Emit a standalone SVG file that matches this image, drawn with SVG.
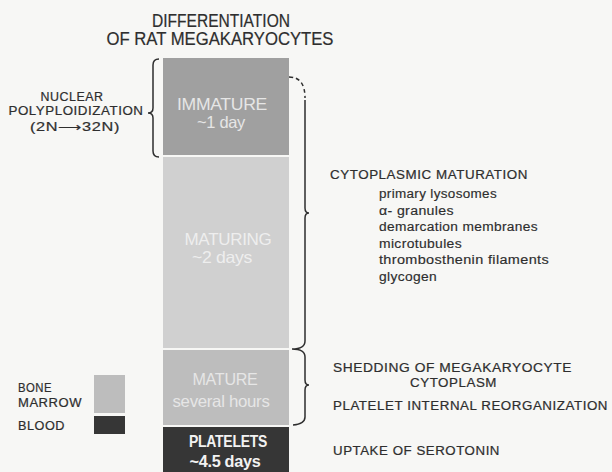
<svg xmlns="http://www.w3.org/2000/svg" width="612" height="472" viewBox="0 0 612 472">
<style>
text{font-family:"Liberation Sans",Arial,sans-serif;fill:#2e2e2e}
.t{font-size:18px;stroke:#2e2e2e;stroke-width:0.2}
.lbl{font-size:12px;letter-spacing:0.5px;stroke:#2e2e2e;stroke-width:0.2}
.item{font-size:12px;letter-spacing:0.3px;stroke:#2e2e2e;stroke-width:0.15}
.box{font-size:16.5px;text-anchor:middle;letter-spacing:-0.3px}
.brace{fill:none;stroke:#2e2e2e;stroke-width:1.5}
</style>
<rect width="612" height="472" fill="#f7f7f5"/>
<g id="title">
<text class="t" x="221" y="27" text-anchor="middle" textLength="138" lengthAdjust="spacingAndGlyphs">DIFFERENTIATION</text>
<text class="t" x="220" y="45" text-anchor="middle" textLength="227" lengthAdjust="spacingAndGlyphs">OF RAT MEGAKARYOCYTES</text>
</g>
<g id="immature">
<rect x="163" y="58" width="126" height="97" fill="#a0a0a0"/>
<text class="box" x="222" y="110" style="fill:#e6e6e6" textLength="90" lengthAdjust="spacingAndGlyphs">IMMATURE</text>
<text class="box" x="221" y="128" style="fill:#e6e6e6" textLength="48" lengthAdjust="spacingAndGlyphs">~1 day</text>
</g>
<g id="maturing">
<rect x="163" y="157" width="126" height="191" fill="#d0d0d0"/>
<text class="box" x="228" y="245" style="fill:#eeeeee" textLength="87" lengthAdjust="spacingAndGlyphs">MATURING</text>
<text class="box" x="222" y="263" style="fill:#eeeeee" textLength="60" lengthAdjust="spacingAndGlyphs">~2 days</text>
</g>
<g id="mature">
<rect x="163" y="350" width="126" height="75" fill="#bdbdbd"/>
<text class="box" x="225" y="385" style="fill:#e6e6e6" textLength="65" lengthAdjust="spacingAndGlyphs">MATURE</text>
<text class="box" x="221" y="407" style="fill:#e6e6e6" textLength="97" lengthAdjust="spacingAndGlyphs">several hours</text>
</g>
<g id="platelets">
<rect x="163" y="427" width="126" height="45" fill="#363636"/>
<text class="box" x="228" y="447" style="fill:#f2f2f2;font-weight:bold" textLength="78" lengthAdjust="spacingAndGlyphs">PLATELETS</text>
<text class="box" x="225" y="467" style="fill:#f2f2f2;font-weight:bold" textLength="71" lengthAdjust="spacingAndGlyphs">~4.5 days</text>
</g>
<g id="nuclear">
<text class="lbl" x="72" y="101" text-anchor="middle" textLength="63" lengthAdjust="spacingAndGlyphs">NUCLEAR</text>
<text class="lbl" x="76" y="115" text-anchor="middle" textLength="135" lengthAdjust="spacingAndGlyphs">POLYPLOIDIZATION</text>
<text class="lbl" x="75" y="131" text-anchor="middle" textLength="90" lengthAdjust="spacingAndGlyphs">(2N⟶32N)</text>
</g>
<g id="legend">
<text class="lbl" x="18" y="392" textLength="34" lengthAdjust="spacingAndGlyphs">BONE</text>
<text class="lbl" x="18" y="407" textLength="64" lengthAdjust="spacingAndGlyphs">MARROW</text>
<text class="lbl" x="18" y="430" textLength="47" lengthAdjust="spacingAndGlyphs">BLOOD</text>
<rect x="94" y="375" width="31" height="38" fill="#bdbdbd"/>
<rect x="94" y="416" width="31" height="18" fill="#363636"/>
</g>
<g id="cytoplasmic">
<text class="lbl" x="330" y="179" textLength="198" lengthAdjust="spacingAndGlyphs">CYTOPLASMIC MATURATION</text>
<text class="item" x="379" y="198" textLength="118" lengthAdjust="spacingAndGlyphs">primary lysosomes</text>
<text class="item" x="379" y="214.5" textLength="75" lengthAdjust="spacingAndGlyphs">α- granules</text>
<text class="item" x="379" y="231" textLength="159" lengthAdjust="spacingAndGlyphs">demarcation membranes</text>
<text class="item" x="379" y="247.5" textLength="83" lengthAdjust="spacingAndGlyphs">microtubules</text>
<text class="item" x="379" y="264" textLength="170" lengthAdjust="spacingAndGlyphs">thrombosthenin filaments</text>
<text class="item" x="379" y="280.5" textLength="58" lengthAdjust="spacingAndGlyphs">glycogen</text>
</g>
<g id="shedding">
<text class="lbl" x="333" y="372" textLength="239" lengthAdjust="spacingAndGlyphs">SHEDDING OF MEGAKARYOCYTE</text>
<text class="lbl" x="410" y="387" textLength="87" lengthAdjust="spacingAndGlyphs">CYTOPLASM</text>
<text class="lbl" x="333" y="410" textLength="275" lengthAdjust="spacingAndGlyphs">PLATELET INTERNAL REORGANIZATION</text>
</g>
<g id="uptake">
<text class="lbl" x="333" y="455" textLength="167" lengthAdjust="spacingAndGlyphs">UPTAKE OF SEROTONIN</text>
</g>
<g id="connectors">
<path class="brace" d="M159,59 Q153,59 153,65 L153,108 Q153,113 148,113 Q153,113 153,118 L153,151 Q153,157 159,157"/>
<path class="brace" stroke-dasharray="4,3" d="M289,77 Q305,77 305,98"/>
<path class="brace" d="M305,100 L305,208 Q305,213 309,213 Q305,213 305,218 L305,341 Q305,349 292,349 Q305,349 305,357 L305,380 Q305,385 309,385 Q305,385 305,390 L305,417 Q305,424 293,425"/>
</g>
</svg>
